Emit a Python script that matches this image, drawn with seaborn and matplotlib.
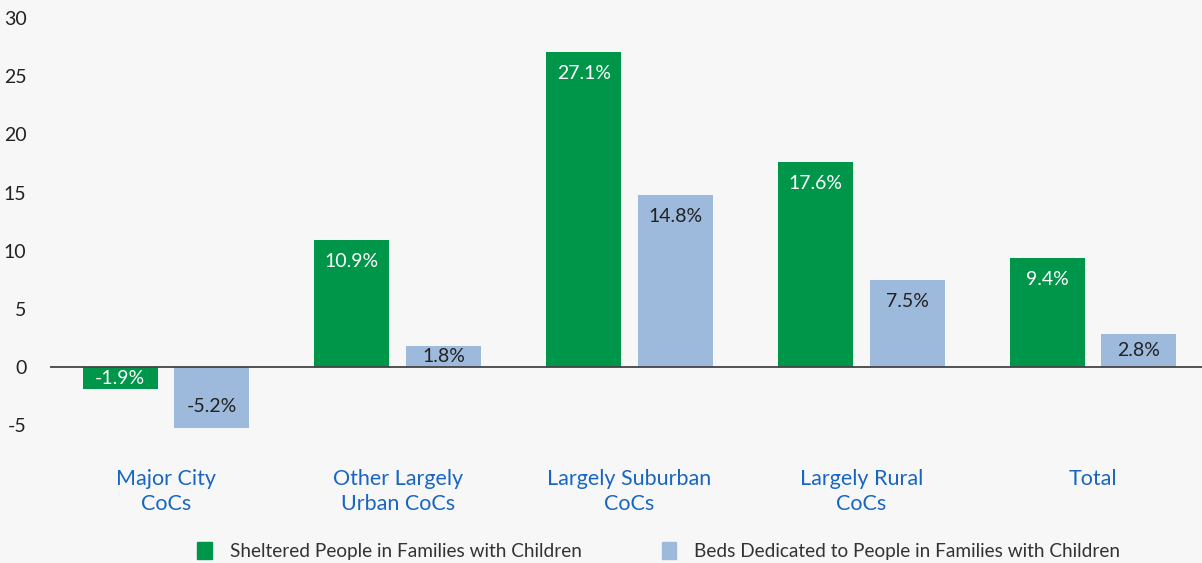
import matplotlib
matplotlib.use("Agg")
import matplotlib.pyplot as plt
import seaborn as sns
import pandas as pd

# Dados do gráfico
categorias = ["Major City\nCoCs", "Other Largely\nUrban CoCs", "Largely Suburban\nCoCs",
              "Largely Rural\nCoCs", "Total"]
abrigados = [-1.9, 10.9, 27.1, 17.6, 9.4]
leitos = [-5.2, 1.8, 14.8, 7.5, 2.8]
series = ["Sheltered People in Families with Children",
          "Beds Dedicated to People in Families with Children"]

df = pd.DataFrame({
    "Categoria": categorias * 2,
    "Valor": abrigados + leitos,
    "Serie": [series[0]] * len(categorias) + [series[1]] * len(categorias),
})

verde = "#00964a"
azul = "#9db9dc"
fundo = "#f7f7f7"

sns.set_theme(style="white")
plt.rcParams["font.family"] = ["Lato", "DejaVu Sans"]

fig = plt.figure(figsize=(12.02, 5.63), dpi=100, facecolor=fundo)
ax = fig.add_axes([50 / 1202, 113 / 563, 1 - 50 / 1202, 450 / 563])
ax.set_facecolor(fundo)

sns.barplot(data=df, x="Categoria", y="Valor", hue="Serie",
            palette=[verde, azul], width=0.79, gap=0.18, linewidth=0,
            saturation=1, ax=ax, legend=False)

ax.set_xlim(-0.5, 4.47)
ax.set_ylim(-7.13, 31.55)
ax.set_yticks([-5, 0, 5, 10, 15, 20, 25, 30])
ax.set_yticklabels(["-5", "0", "5", "10", "15", "20", "25", "30"])
ax.tick_params(axis="y", length=0, pad=17, labelsize=14, labelcolor="#222222")
ax.tick_params(axis="x", length=0, pad=14, labelsize=15.5, labelcolor="#1866c2")
for lbl in ax.get_xticklabels():
    lbl.set_linespacing(1.3)
ax.set_xlabel("")
ax.set_ylabel("")
for s in ax.spines.values():
    s.set_visible(False)
ax.axhline(0, color="#444444", lw=1.3, zorder=3)

# Rótulos de valor nas barras
deslocamento = 1.85
for container, cor_txt in zip(ax.containers, ["white", "#222222"]):
    for barra in container:
        v = barra.get_height()
        x = barra.get_x() + barra.get_width() / 2
        if abs(v) < 2 * deslocamento:
            y = v / 2
        else:
            y = v - deslocamento if v > 0 else v + deslocamento
        ax.text(x, y, f"{v:.1f}%", ha="center", va="center",
                fontsize=14, color=cor_txt, zorder=4)

# Legenda
handles = [plt.Rectangle((0, 0), 1, 1, color=c) for c in [verde, azul]]
fig.legend(handles, series, loc="center", bbox_to_anchor=(0.548, 0.021),
           ncol=2, frameon=False, fontsize=13.7, handlelength=0.75,
           handleheight=1.0, handletextpad=0.95, columnspacing=4.2,
           labelcolor="#333333")

fig.savefig("out.png", dpi=100, facecolor=fundo)
plt.close(fig)
